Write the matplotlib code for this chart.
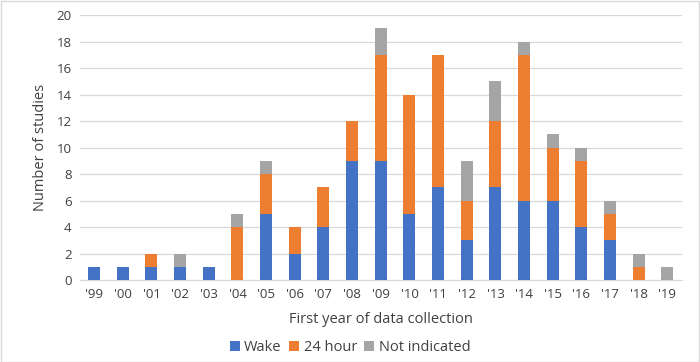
import matplotlib
matplotlib.use("Agg")
import matplotlib.pyplot as plt
import numpy as np

years = ["'99", "'00", "'01", "'02", "'03", "'04", "'05", "'06", "'07", "'08", "'09",
         "'10", "'11", "'12", "'13", "'14", "'15", "'16", "'17", "'18", "'19"]
wake = [1, 1, 1, 1, 1, 0, 5, 2, 4, 9, 9, 5, 7, 3, 7, 6, 6, 4, 3, 0, 0]
hour24 = [0, 0, 1, 0, 0, 4, 3, 2, 3, 3, 8, 9, 10, 3, 5, 11, 4, 5, 2, 1, 0]
not_ind = [0, 0, 0, 1, 0, 1, 1, 0, 0, 0, 2, 0, 0, 3, 3, 1, 1, 1, 1, 1, 1]

plt.rcParams['font.family'] = ['Open Sans', 'DejaVu Sans']

fig = plt.figure(figsize=(7.0, 3.62), dpi=100)
ax = fig.add_axes([0.114, 0.2265, 0.86, 0.732])

x = np.arange(len(years))
w = 0.42
wk = np.array(wake)
h24 = np.array(hour24)
ni = np.array(not_ind)
ax.bar(x, wk, w, color='#4472C4', label='Wake', zorder=3)
ax.bar(x, h24, w, bottom=wk, color='#ED7D31', label='24 hour', zorder=3)
ax.bar(x, ni, w, bottom=wk + h24, color='#A5A5A5', label='Not indicated', zorder=3)

ax.set_ylim(0, 20)
ax.set_yticks(range(0, 21, 2))
ax.set_xlim(-0.5, len(years) - 0.5)
ax.set_xticks(x)
ax.set_xticklabels(years)
ax.tick_params(axis='both', length=0, labelsize=9.5, colors='#404040', pad=6)
ax.grid(axis='y', color='#D9D9D9', linewidth=0.9, zorder=0)
for s in ['top', 'right', 'left']:
    ax.spines[s].set_visible(False)
ax.spines['bottom'].set_color('#D9D9D9')

ax.set_ylabel('Number of studies', fontsize=10.5, color='#404040', labelpad=6)
ax.set_xlabel('First year of data collection', fontsize=10.5, color='#404040', labelpad=8)

fig.legend(loc='center', bbox_to_anchor=(0.5, 0.04), ncol=3, frameon=False,
           fontsize=10.5, handlelength=0.7, handleheight=0.7, handletextpad=0.3,
           columnspacing=0.5, labelcolor='#404040')

border = plt.Rectangle((0.001, 0.001), 0.997, 0.996, transform=fig.transFigure,
                       fill=False, edgecolor='#D9D9D9', linewidth=1)
fig.patches.append(border)

fig.savefig('out.png', dpi=100)
